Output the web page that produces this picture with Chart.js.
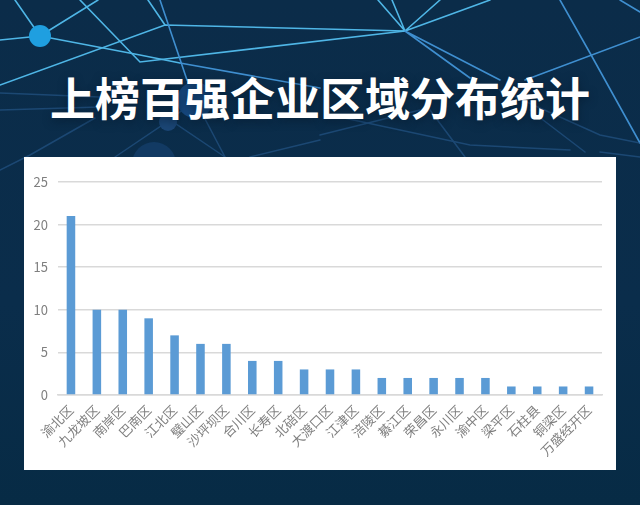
<!DOCTYPE html>
<html lang="zh">
<head>
<meta charset="utf-8">
<title>上榜百强企业区域分布统计</title>
<script src="https://cdn.jsdelivr.net/npm/chart.js@4/dist/chart.umd.min.js"></script>
<style>
    html, body { margin: 0; padding: 0; background: #0a2c48; }
    #page { position: relative; width: 640px; height: 505px; overflow: hidden;
        background: linear-gradient(180deg, #0b2c49 0%, #0a2d4b 60%, #072b45 100%); }
    #bg { position: absolute; left: 0; top: 0; }
    #titulo { position: absolute; left: 0; top: 65px; width: 640px; text-align: center; color: #fff;
        font: 700 45px/64px "Noto Sans CJK SC", sans-serif; white-space: nowrap;
        text-shadow: 0 3px 8px rgba(5, 25, 45, 0.6); }
    #panel { position: absolute; left: 24px; top: 157px; width: 592px; height: 313px; background: #fff; }
    #panel canvas { display: block; }
</style>
</head>
<body>
<div id="page">
    <svg id="bg" width="640" height="505" fill="none" stroke-linecap="round">
        <!-- red de lineas de arriba -->
        <g stroke="#4fb6e6" stroke-width="1.6">
            <path d="M15 0L40 36M98 0L40 36M0 40L40 36"/>
            <path d="M40 36L140 55L180 63"/>
            <path d="M0 85L165 25L405 31"/>
            <path d="M80 0L140 62L405 31"/>
            <path d="M148 0L165 25"/>
            <path d="M378 0L405 31M392 0L405 31M440 0L405 31M490 0L405 31"/>
        </g>
        <g stroke="#3f8fd0" stroke-width="1.6">
            <path d="M160 0L187 80"/>
            <path d="M180 63L320 88"/>
            <path d="M405 31L500 80M405 31L470 78"/>
            <path d="M560 0L590 53L640 143"/>
            <path d="M640 37L525 80"/>
            <path d="M620 0L640 12"/>
        </g>
        <!-- lineas apagadas de abajo -->
        <g stroke="#2a5f96" stroke-width="1.5" opacity="0.55">
            <path d="M0 93L100 97M0 110L100 107"/>
            <path d="M0 170L30 155L95 118"/>
            <path d="M115 157L170 120L225 157"/>
            <path d="M170 120L195 100L225 157"/>
            <path d="M250 157L320 140"/>
            <path d="M330 115L470 145L570 150"/>
            <path d="M320 135L420 110"/>
            <path d="M430 110L465 157"/>
            <path d="M500 90L600 135L640 143"/>
            <path d="M600 152L640 157"/>
            <path d="M530 110L585 152"/>
        </g>
        <circle cx="40" cy="36" r="11" fill="#1f9fe0"/>
        <circle cx="195" cy="100" r="18" fill="#174a80"/>
        <circle cx="168" cy="122" r="9" fill="#1b4675"/>
        <circle cx="154" cy="164" r="22" fill="#123a63"/>
    </svg>
    <div id="titulo">上榜百强企业区域分布统计</div>
    <div id="panel"><canvas id="graficoDistritos" width="592" height="313"></canvas></div>
</div>
<script>
const distritos = ['渝北区', '九龙坡区', '南岸区', '巴南区', '江北区', '璧山区', '沙坪坝区', '合川区', '长寿区', '北碚区', '大渡口区',
    '江津区', '涪陵区', '綦江区', '荣昌区', '永川区', '渝中区', '梁平区', '石柱县', '铜梁区', '万盛经开区'];
const empresas = [21, 10, 10, 9, 7, 6, 6, 4, 4, 3, 3, 3, 2, 2, 2, 2, 2, 1, 1, 1, 1];
const ticksY = [0, 5, 10, 15, 20, 25];

const fuente = { family: '"Noto Sans CJK SC", sans-serif', size: 13 };

const ctx = document.getElementById('graficoDistritos').getContext('2d');
new Chart(ctx, {
    type: 'bar',
    data: {
        labels: distritos,
        datasets: [{
            data: empresas,
            backgroundColor: '#5b9bd5',
            categoryPercentage: 1,
            barPercentage: 0.33
        }]
    },
    options: {
        responsive: false,
        animation: false,
        layout: { padding: { top: 25, right: 14, bottom: 0, left: 0 } },
        plugins: {
            legend: { display: false },
            title: { display: false },
            tooltip: { enabled: false }
        },
        scales: {
            x: {
                grid: { display: false, drawTicks: false },
                border: { color: '#d9d9d9', width: 1.5 },
                ticks: { color: '#7f7f7f', font: fuente, minRotation: 45, maxRotation: 45, autoSkip: false, padding: 7 },
                afterFit: function(scale) { scale.height = 75; }
            },
            y: {
                min: 0,
                max: 25,
                afterBuildTicks: function(scale) { scale.ticks = ticksY.map(v => ({ value: v })); },
                grid: { color: '#d9d9d9', lineWidth: 1.5, drawTicks: false },
                border: { display: false },
                ticks: { color: '#7f7f7f', font: fuente, padding: 10 },
                afterFit: function(scale) { scale.width = 34; }
            }
        }
    }
});
</script>
</body>
</html>
